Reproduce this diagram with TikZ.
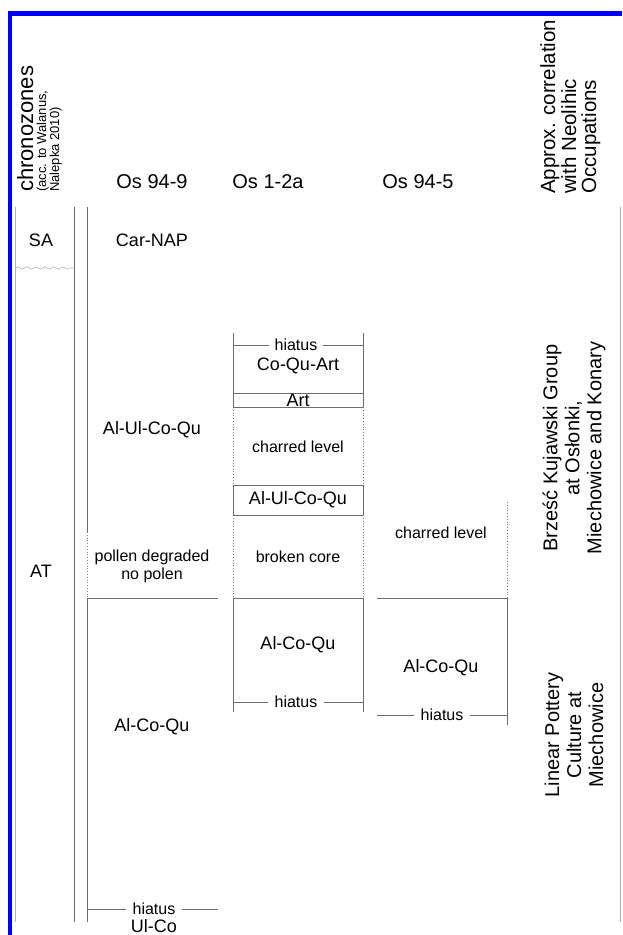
\documentclass[tikz,border=0pt]{standalone}
\usepackage{fontspec}
\setmainfont{Liberation Sans}
\usetikzlibrary{decorations.pathmorphing}

\begin{document}
\begin{tikzpicture}[x=1pt, y=-1pt,
        head/.style={font=\fontsize{20.5}{22}\selectfont, inner sep=0pt},
        sub/.style={font=\fontsize{13}{13}\selectfont, inner sep=0pt},
        unit/.style={font=\fontsize{18}{20}\selectfont, inner sep=1pt},
        note/.style={font=\fontsize{16}{18}\selectfont, inner sep=1pt},
        gap/.style={note, inner xsep=6pt, inner ysep=0pt},
        occ/.style={font=\fontsize{20}{22}\selectfont, rotate=90, align=center, inner sep=0pt},
        rule/.style={draw=gray!85!black, line width=0.9pt},
        dots/.style={draw=gray, line width=0.8pt, dotted}
    ]
        \useasboundingbox (0,0) rectangle (622,935);

        % Frame
        \draw[blue, line width=4.5pt] (10,935) -- (10,13.5) -- (622,13.5);

        % Headers
        \node[head, font=\fontsize{22}{22}\selectfont, rotate=90, anchor=base west] (hchrono) at (33,192) {chronozones};
        \node[sub, rotate=90, anchor=base west] (hacc) at (46,192) {(acc. to Walanus,};
        \node[sub, rotate=90, anchor=base west] (hnal) at (59,192) {Nalepka 2010)};
        \node[head, font=\fontsize{20}{21}\selectfont] (h949) at (152,182) {Os 94-9};
        \node[head, font=\fontsize{20}{21}\selectfont] (h12a) at (268,182) {Os 1-2a};
        \node[head, font=\fontsize{20}{21}\selectfont] (h945) at (418,182) {Os 94-5};
        \node[head, rotate=90, anchor=base west] (happ) at (555,194) {Approx. correlation};
        \node[head, rotate=90, anchor=base west] (hwith) at (576,194) {with Neolihic};
        \node[head, rotate=90, anchor=base west] (hocc) at (596,194) {Occupations};

        % Chronozones
        \draw[draw=gray!60, line width=0.9pt] (15,207) -- (15,922);
        \draw[rule] (74,207) -- (74,922);
        \draw[draw=gray!60, line width=0.6pt, decorate,
              decoration={snake, amplitude=1.2pt, segment length=9pt}] (15,268) -- (74,268);
        \node[unit] (sa) at (41,240) {SA};
        \node[unit] (at) at (41,571) {AT};

        % Os 94-9
        \draw[rule] (87,207) -- (87,532);
        \draw[dots] (87,532) -- (87,598);
        \draw[rule] (87,598) -- (87,922);
        \draw[rule] (87,598) -- (218,598);
        \node[unit] (carnap) at (152,240) {Car-NAP};
        \node[unit] (aluc1) at (152,430) {Al-Ul-Co-Qu};
        \node[note, align=center] (pollen) at (152,566) {pollen degraded\\no polen};
        \node[unit] (acq1) at (152,727) {Al-Co-Qu};
        \coordinate (h1a) at (87,909);
        \coordinate (h1b) at (218,909);
        \node[gap] (hia1) at (154,909) {hiatus};
        \draw[rule] (h1a) -- (hia1) -- (h1b);
        \node[unit, inner sep=0pt] (ulco) at (154,926) {Ul-Co};

        % Os 1-2a
        \foreach \xs in {233,363} {
            \draw[rule] (\xs,333) -- (\xs,407);
            \draw[dots] (\xs,407) -- (\xs,485);
            \draw[rule] (\xs,485) -- (\xs,515);
            \draw[dots] (\xs,515) -- (\xs,598);
            \draw[rule] (\xs,598) -- (\xs,712);
        }
        \foreach \ys in {393,407,485,515,598}
            \draw[rule] (233,\ys) -- (363,\ys);
        \coordinate (h2a) at (233,345);
        \coordinate (h2b) at (363,345);
        \node[gap, inner xsep=5pt] (hia2) at (296,345) {hiatus};
        \draw[rule] (h2a) -- (hia2) -- (h2b);
        \node[unit] (coqa) at (298,366) {Co-Qu-Art};
        \node[unit] (art) at (298,400) {Art};
        \node[note] (char2) at (298,447) {charred level};
        \node[unit] (aluc2) at (298,500) {Al-Ul-Co-Qu};
        \node[note] (broken) at (298,557) {broken core};
        \node[unit] (acq2) at (298,645) {Al-Co-Qu};
        \coordinate (h3a) at (233,702);
        \coordinate (h3b) at (363,702);
        \node[gap] (hia3) at (296,702) {hiatus};
        \draw[rule] (h3a) -- (hia3) -- (h3b);

        % Os 94-5
        \draw[dots] (507,502) -- (507,598);
        \draw[rule] (507,598) -- (507,725);
        \draw[rule] (377,598) -- (507,598);
        \node[note] (char3) at (441,533) {charred level};
        \node[unit] (acq3) at (441,668) {Al-Co-Qu};
        \coordinate (h4a) at (377,715);
        \coordinate (h4b) at (507,715);
        \node[gap] (hia4) at (442,715) {hiatus};
        \draw[rule] (h4a) -- (hia4) -- (h4b);

        % Neolithic occupations
        \draw[draw=gray!60, line width=0.9pt] (620,207) -- (620,922);
        \node[occ] (brzesc) at (574,448) {Brześć Kujawski Group\\at Osłonki,\\Miechowice and Konary};
        \node[occ] (lbk) at (574,735) {Linear Pottery\\Culture at\\Miechowice};

    \end{tikzpicture}
\end{document}
